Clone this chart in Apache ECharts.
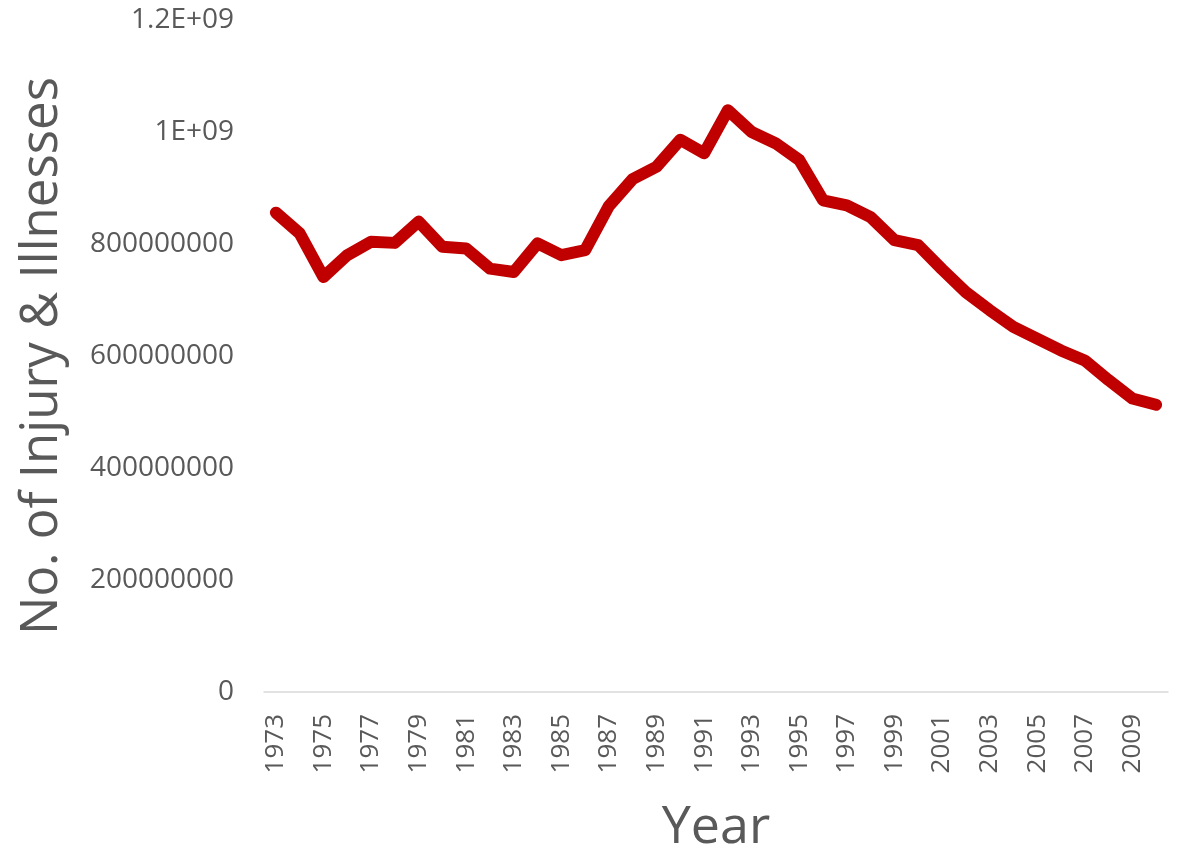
<!DOCTYPE html>
<html>
<head>
<meta charset="utf-8">
<script src="https://cdn.jsdelivr.net/npm/echarts@6/dist/echarts.min.js"></script>
<style>
html,body{margin:0;padding:0;background:#fff;}
#chart{width:1183px;height:853px;}
</style>
</head>
<body>
<div id="chart"></div>
<script>
const years = ['1973','1974','1975','1976','1977','1978','1979','1980','1981','1982','1983','1984','1985','1986','1987','1988','1989','1990','1991','1992','1993','1994','1995','1996','1997','1998','1999','2000','2001','2002','2003','2004','2005','2006','2007','2008','2009','2010'];
const injuries = [856e6,819e6,741e6,780e6,804e6,802e6,840e6,795e6,792e6,756e6,750e6,801e6,780e6,789e6,868e6,916e6,938e6,986e6,962e6,1039e6,1000e6,980e6,950e6,878e6,869e6,848e6,807e6,798e6,755e6,714e6,682e6,652e6,631e6,610e6,592e6,557e6,524e6,513e6];
const yTickValues = [0,200e6,400e6,600e6,800e6,1000e6,1200e6];
const yTickLabels = ['0','200000000','400000000','600000000','800000000','1E+09','1.2E+09'];

const chart = echarts.init(document.getElementById('chart'));
const textColor = '#595959';
const font = 'Open Sans';
chart.setOption({
  animation:false,
  backgroundColor:'#ffffff',
  grid:{left:264,right:15,top:20,bottom:161,containLabel:false,outerBoundsMode:'none'},
  xAxis:{
    type:'category',
    data:years,
    boundaryGap:true,
    name:'Year',
    nameLocation:'middle',
    nameGap:110,
    nameTextStyle:{color:textColor,fontFamily:font,fontSize:52},
    axisLine:{lineStyle:{color:'#d9d9d9',width:1.5}},
    axisTick:{show:false},
    axisLabel:{interval:1,rotate:90,color:textColor,fontFamily:font,fontSize:26,margin:22},
    splitLine:{show:false}
  },
  yAxis:{
    type:'value',
    min:0,max:1200e6,interval:200e6,
    name:'No. of Injury & Illnesses',
    nameLocation:'middle',
    nameGap:196,
    nameRotate:90,
    nameTextStyle:{color:textColor,fontFamily:font,fontSize:51},
    axisLine:{show:false},
    axisTick:{show:false},
    splitLine:{show:false},
    axisLabel:{
      color:textColor,fontFamily:font,fontSize:28,margin:30,
      formatter:function(v){const i=yTickValues.indexOf(v);return i>=0?yTickLabels[i]:String(v);}
    }
  },
  series:[{
    type:'line',
    data:injuries,
    symbol:'none',
    lineStyle:{color:'#C00000',width:12,cap:'round',join:'round'},
    itemStyle:{color:'#C00000'}
  }]
});
</script>
</body>
</html>
